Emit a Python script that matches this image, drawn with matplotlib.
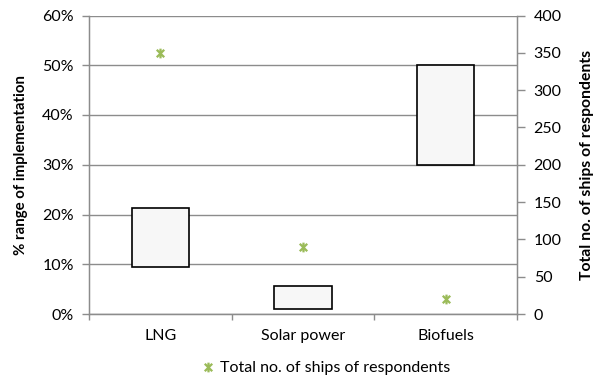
import matplotlib
matplotlib.use("Agg")
import matplotlib.pyplot as plt
from matplotlib.path import Path
from matplotlib.ticker import PercentFormatter

plt.rcParams['font.family'] = ['Lato', 'DejaVu Sans']

categories = ["LNG", "Solar power", "Biofuels"]
range_low = [0.095, 0.011, 0.30]
range_high = [0.214, 0.056, 0.50]
ships_total = [350, 90, 20]

GRID = "#8c8c8c"
GREEN = "#9bbb59"

# Excel-style star marker: an x crossed by a vertical stroke
star = Path([(-1, -1), (1, 1), (-1, 1), (1, -1), (0, -1.3), (0, 1.3)],
            [Path.MOVETO, Path.LINETO, Path.MOVETO, Path.LINETO,
             Path.MOVETO, Path.LINETO])

fig = plt.figure(figsize=(6.0, 3.78), dpi=100)
ax = fig.add_axes([89 / 600, 1 - 314 / 378, (517 - 89) / 600, (314 - 15.5) / 378])
x = list(range(len(categories)))

ax.set_axisbelow(True)
ax.yaxis.grid(True, color=GRID, linewidth=1.0)
heights = [h - l for l, h in zip(range_low, range_high)]
ax.bar(x, heights, bottom=range_low, width=0.4, facecolor="#f7f7f7",
       edgecolor="black", linewidth=1.2, zorder=3)

ax.set_xlim(-0.5, 2.5)
ax.set_ylim(0, 0.6)
ax.set_yticks([i / 10 for i in range(7)])
ax.yaxis.set_major_formatter(PercentFormatter(1.0, decimals=0))
ax.set_xticks(x)
ax.set_xticklabels(categories)
ax.set_xticks([-0.5, 0.5, 1.5, 2.5], minor=True)
ax.tick_params(axis="x", which="major", length=0, pad=11, labelsize=11.5)
ax.tick_params(axis="x", which="minor", length=4, color=GRID, width=1)
ax.tick_params(axis="y", length=5, color=GRID, width=1, labelsize=11.5, pad=6)
ax.set_ylabel("% range of implementation", fontsize=10.8, fontweight="bold", labelpad=10)
ax.spines["top"].set_visible(False)
for side in ("left", "right", "bottom"):
    ax.spines[side].set_color(GRID)
    ax.spines[side].set_linewidth(1.0)

ax2 = ax.twinx()
ax2.plot(x, ships_total, linestyle="none", marker=star, markersize=7,
         markeredgecolor=GREEN, markerfacecolor="none", markeredgewidth=1.6,
         label="Total no. of ships of respondents", zorder=4)
ax2.set_ylim(0, 400)
ax2.set_yticks(range(0, 401, 50))
ax2.tick_params(axis="y", length=6, color=GRID, width=1, labelsize=11.5, pad=6)
ax2.set_ylabel("Total no. of ships of respondents", fontsize=11.3,
               fontweight="bold", labelpad=13)
ax2.spines["top"].set_visible(False)
for side in ("left", "right", "bottom"):
    ax2.spines[side].set_color(GRID)

fig.legend(handles=ax2.get_lines(), loc="center", bbox_to_anchor=(326 / 600, 1 - 368 / 378),
           frameon=False, fontsize=11.5, handlelength=0.8, handletextpad=0.3,
           borderaxespad=0)

fig.savefig("out.png", dpi=100)
